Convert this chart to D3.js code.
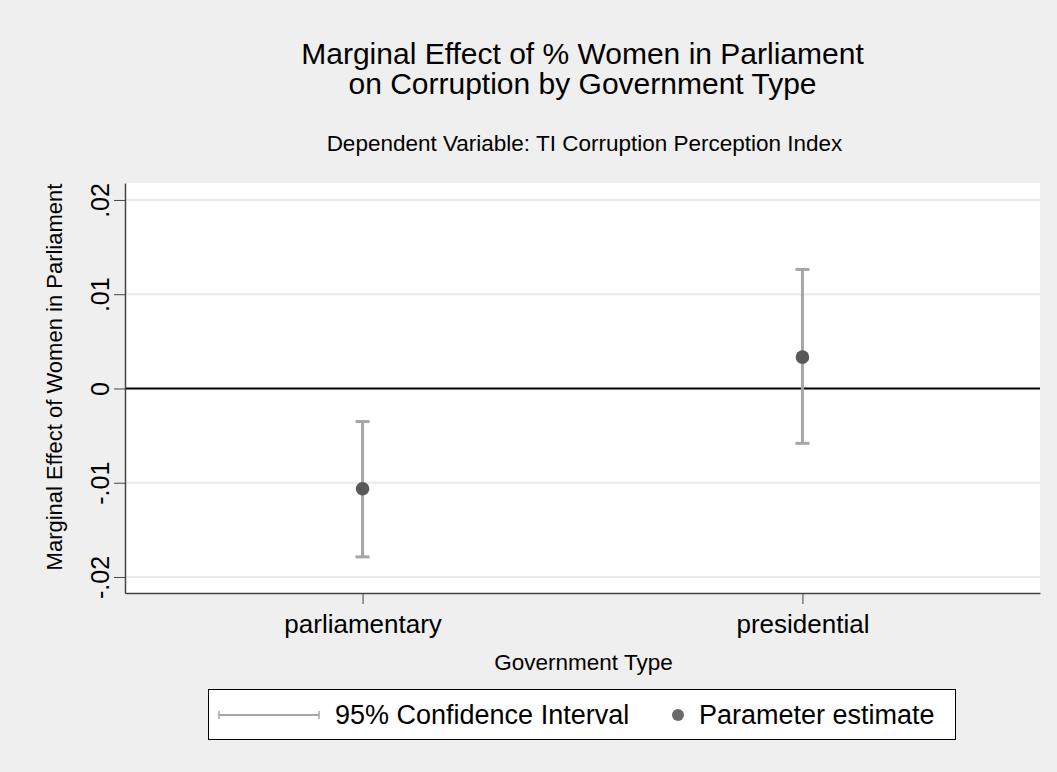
<!DOCTYPE html>
<html>
<head>
<meta charset="utf-8">
<script src="https://cdn.jsdelivr.net/npm/d3@7"></script>
<style>
  body { margin: 0; background: #efefef; }
  svg { display: block; font-family: "Liberation Sans", Arial, sans-serif; }
</style>
</head>
<body>
<svg id="chart"></svg>
<script>
"use strict";

var width = 1057
  , height = 772;

// data
var categories = ["parliamentary", "presidential"];
var estimates = [-0.01064, 0.00333];
var ciLower = [-0.01787, -0.00582];
var ciUpper = [-0.00351, 0.01263];
var yTicks = [-0.02, -0.01, 0, 0.01, 0.02];
var yTickLabels = ["-.02", "-.01", "0", ".01", ".02"];

var plot = { left: 125, right: 1040, top: 183, bottom: 593 };

var svg = d3.select("#chart")
  .attr("width", width)
  .attr("height", height);

svg.append("rect")
  .attr("width", width)
  .attr("height", height)
  .attr("fill", "#efefef");

svg.append("rect")
  .attr("x", plot.left)
  .attr("y", plot.top)
  .attr("width", plot.right - plot.left)
  .attr("height", plot.bottom - plot.top)
  .attr("fill", "#ffffff");

var x = d3.scaleLinear().domain([0.46, 2.54]).range([plot.left, plot.right]);
var y = d3.scaleLinear().domain([-0.0217, 0.0218]).range([plot.bottom, plot.top]);

var midX = (plot.left + plot.right) / 2;

// titles
svg.append("text")
  .attr("x", midX).attr("y", 64)
  .attr("text-anchor", "middle")
  .style("font-size", "30px")
  .text("Marginal Effect of % Women in Parliament");

svg.append("text")
  .attr("x", midX).attr("y", 94)
  .attr("text-anchor", "middle")
  .style("font-size", "30px")
  .text("on Corruption by Government Type");

svg.append("text")
  .attr("x", midX + 2).attr("y", 151)
  .attr("text-anchor", "middle")
  .style("font-size", "22.5px")
  .text("Dependent Variable: TI Corruption Perception Index");

// gridlines
svg.append("g")
  .selectAll("line")
  .data(yTicks.filter(function (d) { return d !== 0; }))
  .enter()
  .append("line")
  .attr("x1", plot.left).attr("x2", plot.right)
  .attr("y1", function (d) { return y(d); })
  .attr("y2", function (d) { return y(d); })
  .attr("stroke", "#eaeaea")
  .attr("stroke-width", 2);

// zero line
svg.append("line")
  .attr("x1", plot.left).attr("x2", plot.right)
  .attr("y1", y(0)).attr("y2", y(0))
  .attr("stroke", "#000")
  .attr("stroke-width", 2);

// y axis
var yAxis = d3.axisLeft(y)
  .tickValues(yTicks)
  .tickSizeInner(11)
  .tickSizeOuter(0)
  .tickFormat(function (d, i) { return yTickLabels[i]; });

var gy = svg.append("g")
  .attr("transform", "translate(" + plot.left + ",0)")
  .call(yAxis);
gy.select(".domain").attr("stroke", "#444").attr("stroke-width", 1.5);
gy.selectAll(".tick line").attr("stroke", "#444").attr("stroke-width", 1);
gy.selectAll(".tick text")
  .attr("x", null).attr("dy", null)
  .attr("transform", "translate(-16,0) rotate(-90)")
  .attr("text-anchor", "middle")
  .attr("fill", "#000")
  .style("font-size", "25px")
  .style("font-family", "Liberation Sans, Arial, sans-serif");

// x axis
var xAxis = d3.axisBottom(x)
  .tickValues([1, 2])
  .tickSizeInner(11)
  .tickSizeOuter(0)
  .tickFormat(function (d) { return categories[d - 1]; });

var gx = svg.append("g")
  .attr("transform", "translate(0," + plot.bottom + ")")
  .call(xAxis);
gx.select(".domain").attr("stroke", "#444").attr("stroke-width", 1.5);
gx.selectAll(".tick line").attr("stroke", "#444").attr("stroke-width", 1);
gx.selectAll(".tick text")
  .attr("y", 40).attr("dy", null)
  .attr("fill", "#000")
  .style("font-size", "26px")
  .style("font-family", "Liberation Sans, Arial, sans-serif");

// axis titles
svg.append("text")
  .attr("transform", "translate(62,377) rotate(-90)")
  .attr("text-anchor", "middle")
  .style("font-size", "22px")
  .text("Marginal Effect of Women in Parliament");

svg.append("text")
  .attr("x", midX + 1).attr("y", 670)
  .attr("text-anchor", "middle")
  .style("font-size", "22.5px")
  .text("Government Type");

// confidence intervals
var ci = svg.append("g").attr("stroke", "#a6a6a6").attr("stroke-width", 3);
categories.forEach(function (c, i) {
  var cx = x(i + 1);
  ci.append("line")
    .attr("x1", cx).attr("x2", cx)
    .attr("y1", y(ciLower[i])).attr("y2", y(ciUpper[i]));
  ci.append("line")
    .attr("x1", cx - 7).attr("x2", cx + 7)
    .attr("y1", y(ciLower[i])).attr("y2", y(ciLower[i]));
  ci.append("line")
    .attr("x1", cx - 7).attr("x2", cx + 7)
    .attr("y1", y(ciUpper[i])).attr("y2", y(ciUpper[i]));
});

// point estimates
svg.append("g")
  .selectAll("circle")
  .data(estimates)
  .enter()
  .append("circle")
  .attr("cx", function (d, i) { return x(i + 1); })
  .attr("cy", function (d) { return y(d); })
  .attr("r", 6.8)
  .attr("fill", "#595959");

// legend
var legend = svg.append("g");
legend.append("rect")
  .attr("x", 208.5).attr("y", 689.5)
  .attr("width", 747).attr("height", 50)
  .attr("fill", "#fff")
  .attr("stroke", "#000")
  .attr("stroke-width", 1);

legend.append("line")
  .attr("x1", 219).attr("x2", 319).attr("y1", 715).attr("y2", 715)
  .attr("stroke", "#a6a6a6").attr("stroke-width", 2);
legend.append("line")
  .attr("x1", 219).attr("x2", 219).attr("y1", 711).attr("y2", 719)
  .attr("stroke", "#a6a6a6").attr("stroke-width", 1.5);
legend.append("line")
  .attr("x1", 319).attr("x2", 319).attr("y1", 711).attr("y2", 719)
  .attr("stroke", "#a6a6a6").attr("stroke-width", 1.5);
legend.append("text")
  .attr("x", 335).attr("y", 724)
  .style("font-size", "27px")
  .text("95% Confidence Interval");

legend.append("circle")
  .attr("cx", 678).attr("cy", 715).attr("r", 6)
  .attr("fill", "#6a6a6a");
legend.append("text")
  .attr("x", 699).attr("y", 724)
  .style("font-size", "27px")
  .text("Parameter estimate");
</script>
</body>
</html>
